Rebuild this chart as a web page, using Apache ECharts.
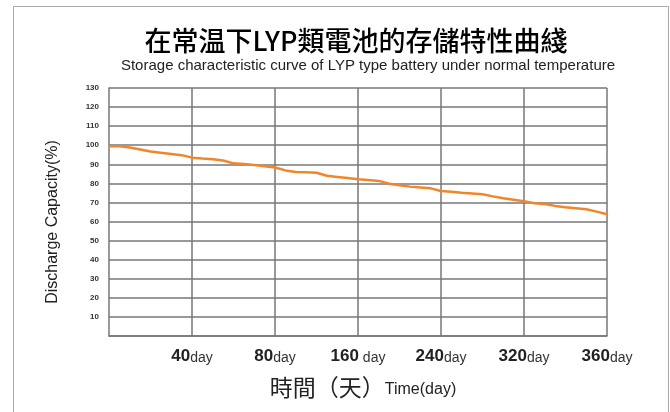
<!DOCTYPE html>
<html>
<head>
<meta charset="utf-8">
<script src="https://cdn.jsdelivr.net/npm/echarts@6/dist/echarts.min.js"></script>
<style>
  html, body { margin: 0; padding: 0; background: #fff; }
  #main { width: 670px; height: 412px; }
</style>
</head>
<body>
<div id="main"></div>
<script>
// days along the x axis (8 steps per grid column, columns are uneven in days)
const days = [0, 5, 10, 15, 20, 25, 30, 35, 40,
  45, 50, 55, 60, 65, 70, 75, 80,
  90, 100, 110, 120, 130, 140, 150, 160,
  170, 180, 190, 200, 210, 220, 230, 240,
  250, 260, 270, 280, 290, 300, 310, 320,
  325, 330, 335, 340, 345, 350, 355, 360];
// discharge capacity (%)
const capacity = [99.5, 99.5, 98.8, 97.8, 96.7, 96.0, 95.4, 94.8, 93.5,
  93.0, 92.6, 92.0, 90.5, 90.1, 89.6, 89.0, 88.3,
  86.8, 86.0, 85.8, 85.6, 84.0, 83.4, 82.8, 82.2,
  81.8, 81.3, 79.8, 79.0, 78.3, 77.9, 77.4, 76.0,
  75.6, 75.1, 74.7, 74.3, 73.2, 72.2, 71.4, 70.6,
  69.6, 69.2, 68.2, 67.5, 67.0, 66.4, 65.2, 63.8];
// tick labels shown under the vertical grid lines
const dayLabels = { 40: ['40', 'day'], 80: ['80', 'day'], 160: ['160', ' day'],
  240: ['240', 'day'], 320: ['320', 'day'], 360: ['360', 'day'] };

const sans = '"Liberation Sans", Arial, sans-serif';
const cjk = '"Noto Sans CJK TC", "Noto Sans CJK SC", sans-serif';
const showTick = (idx, val) => dayLabels[val] !== undefined;

const chart = echarts.init(document.getElementById('main'));
chart.setOption({
  animation: false,
  backgroundColor: '#fff',
  graphic: [{
    type: 'rect',
    shape: { x: 13.5, y: 6.5, width: 655, height: 420 },
    style: { fill: 'none', stroke: '#aaa', lineWidth: 1 },
    silent: true
  }],
  title: [{
    text: '在常温下LYP類電池的存儲特性曲綫',
    left: 351,
    textAlign: 'center',
    top: 22,
    textStyle: {
      fontFamily: cjk,
      fontSize: 27,
      fontWeight: 500,
      color: '#000'
    }
  }, {
    text: 'Storage characteristic curve of LYP type battery under normal temperature',
    left: 363,
    textAlign: 'center',
    top: 53,
    textStyle: {
      fontFamily: sans,
      fontSize: 15,
      fontWeight: 'normal',
      color: '#222'
    }
  }],
  grid: { left: 109, right: 63, top: 88, bottom: 76 },
  xAxis: {
    type: 'category',
    data: days,
    boundaryGap: false,
    axisLine: { lineStyle: { color: '#777', width: 1.5 } },
    axisTick: { show: false },
    splitLine: { show: true, interval: showTick, lineStyle: { color: '#777', width: 1.5 } },
    axisLabel: {
      interval: showTick,
      margin: 12,
      formatter: v => {
        const l = dayLabels[v];
        return l ? '{n|' + l[0] + '}{d|' + l[1] + '}' : '';
      },
      rich: {
        n: { fontFamily: sans, fontWeight: 'bold', fontSize: 17, color: '#222' },
        d: { fontFamily: sans, fontSize: 14, color: '#333', padding: [3, 0, 0, 0] }
      }
    },
    name: '{c|時間（天）}{e|Time(day)}',
    nameLocation: 'middle',
    nameGap: 40,
    nameTextStyle: {
      padding: [0, 0, 0, 10],
      rich: {
        c: { fontFamily: cjk, fontSize: 23, color: '#222' },
        e: { fontFamily: sans, fontSize: 16, color: '#222', padding: [4, 0, 0, 0] }
      }
    }
  },
  yAxis: {
    type: 'value',
    min: 0,
    max: 130,
    interval: 10,
    axisLine: { show: true, lineStyle: { color: '#777', width: 1.5 } },
    axisTick: { show: false },
    splitLine: { lineStyle: { color: '#777', width: 1.5 } },
    axisLabel: {
      margin: 10,
      fontSize: 8,
      fontWeight: 'bold',
      fontFamily: sans,
      color: '#333',
      formatter: v => v === 0 ? '' : String(v)
    },
    name: 'Discharge Capacity(%)',
    nameLocation: 'middle',
    nameGap: 48,
    nameTextStyle: { fontFamily: sans, fontSize: 16, color: '#222', padding: [0, 20, 0, 0] }
  },
  series: [{
    type: 'line',
    data: capacity,
    symbol: 'none',
    lineStyle: { color: '#f0862c', width: 2.5 },
    z: 5
  }]
});
</script>
</body>
</html>
